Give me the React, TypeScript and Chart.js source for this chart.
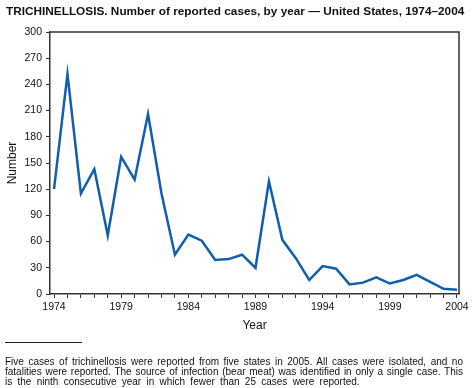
import React, { useEffect, useRef } from "react";
import { Chart, registerables } from "chart.js";

Chart.register(...registerables);

const years: number[] = [
  1974, 1975, 1976, 1977, 1978, 1979, 1980, 1981, 1982, 1983, 1984, 1985, 1986, 1987, 1988,
  1989, 1990, 1991, 1992, 1993, 1994, 1995, 1996, 1997, 1998, 1999, 2000, 2001, 2002, 2003, 2004,
];
const cases: number[] = [
  120, 252, 115, 143, 67, 157, 131, 206, 115, 45, 68, 61, 39, 40, 45,
  30, 129, 62, 41, 16, 32, 29, 11, 13, 19, 12, 16, 22, 14, 6, 5,
];
const labeledYears: number[] = [1974, 1979, 1984, 1989, 1994, 1999, 2004];
const yTicks: number[] = [0, 30, 60, 90, 120, 150, 180, 210, 240, 270, 300];

const titleText = "TRICHINELLOSIS. Number of reported cases, by year \u2014 United States, 1974\u20132004";
const footLines: string[] = [
  "Five cases of trichinellosis were reported from five states in 2005.  All cases were isolated, and no",
  "fatalities were reported. The source of infection (bear meat) was identified in only a single case. This",
  "is the ninth consecutive year in which fewer than 25 cases were reported.",
];

const AXIS = "#333333";
const FONT = "'Liberation Sans', Arial, Helvetica, sans-serif";

const boxPlugin = {
  id: "box",
  afterDraw(chart: any) {
    const { ctx, chartArea } = chart;
    ctx.save();
    ctx.strokeStyle = AXIS;
    ctx.lineWidth = 1.5;
    ctx.beginPath();
    ctx.moveTo(chartArea.left, chartArea.top);
    ctx.lineTo(chartArea.right, chartArea.top);
    ctx.lineTo(chartArea.right, chartArea.bottom);
    ctx.stroke();
    ctx.restore();
  },
};

export default function App() {
  const ref = useRef<HTMLCanvasElement>(null);
  useEffect(() => {
    const c = new Chart(ref.current as HTMLCanvasElement, {
      type: "line",
      data: {
        datasets: [
          {
            data: years.map((y, i) => ({ x: y, y: cases[i] })),
            borderColor: "#0f5fae",
            borderWidth: 2.5,
            pointRadius: 0,
            tension: 0,
            fill: false,
          },
        ],
      },
      options: {
        animation: false,
        responsive: false,
        maintainAspectRatio: false,
        layout: { padding: { left: 0, right: 13, top: 32, bottom: 54 } },
        plugins: { legend: { display: false }, tooltip: { enabled: false }, title: { display: false } },
        scales: {
          x: {
            type: "linear",
            min: 1973.7,
            max: 2004.15,
            afterBuildTicks: (s: any) => {
              s.ticks = years.map((v) => ({ value: v }));
            },
            afterFit: (s: any) => {
              s.height = 40;
            },
            ticks: {
              autoSkip: false,
              maxRotation: 0,
              padding: 3,
              color: "#111",
              font: { family: FONT, size: 10.5 },
              callback: (v: any) => (labeledYears.includes(Number(v)) ? String(v) : ""),
            },
            grid: { drawOnChartArea: false, drawTicks: true, tickLength: 4, color: AXIS, lineWidth: 1 },
            border: { color: AXIS, width: 1.5 },
            title: { display: true, text: "Year", color: "#111", font: { family: FONT, size: 12 }, padding: { top: 0, bottom: 1 } },
          },
          y: {
            min: 0,
            max: 300,
            afterBuildTicks: (s: any) => {
              s.ticks = yTicks.map((v) => ({ value: v }));
            },
            afterFit: (s: any) => {
              s.width = 50;
            },
            ticks: { padding: 4, color: "#111", font: { family: FONT, size: 10.5 } },
            grid: { drawOnChartArea: false, drawTicks: true, tickLength: 4, color: AXIS, lineWidth: 1 },
            border: { color: AXIS, width: 1.5 },
            title: { display: true, text: "Number", color: "#111", font: { family: FONT, size: 12 }, padding: { top: 5, bottom: 0 } },
          },
        },
      },
      plugins: [boxPlugin],
    });
    return () => c.destroy();
  }, []);

  return (
    <div style={{ position: "fixed", left: 0, top: 0, width: 472, height: 388, background: "#fff", fontFamily: FONT }}>
      <canvas ref={ref} width={472} height={388} style={{ position: "absolute", left: 0, top: 0 }} />
      <div
        style={{
          position: "absolute",
          left: 6,
          top: 4,
          fontWeight: "bold",
          fontSize: 11.8,
          whiteSpace: "nowrap",
          color: "#111",
        }}
      >
        {titleText}
      </div>
      <div style={{ position: "absolute", left: 5, top: 342, width: 77, height: 1, background: "#222" }} />
      <div style={{ position: "absolute", left: 5, top: 357, width: 458, fontSize: 10, lineHeight: "10px", color: "#111" }}>
        {footLines.map((t, i) => (
          <div
            key={i}
            style={{
              whiteSpace: "nowrap",
              textAlign: i < 2 ? "justify" : "left",
              textAlignLast: i < 2 ? "justify" : "left",
              wordSpacing: i === 2 ? 2.5 : undefined,
            }}
          >
            {t}
          </div>
        ))}
      </div>
    </div>
  );
}
